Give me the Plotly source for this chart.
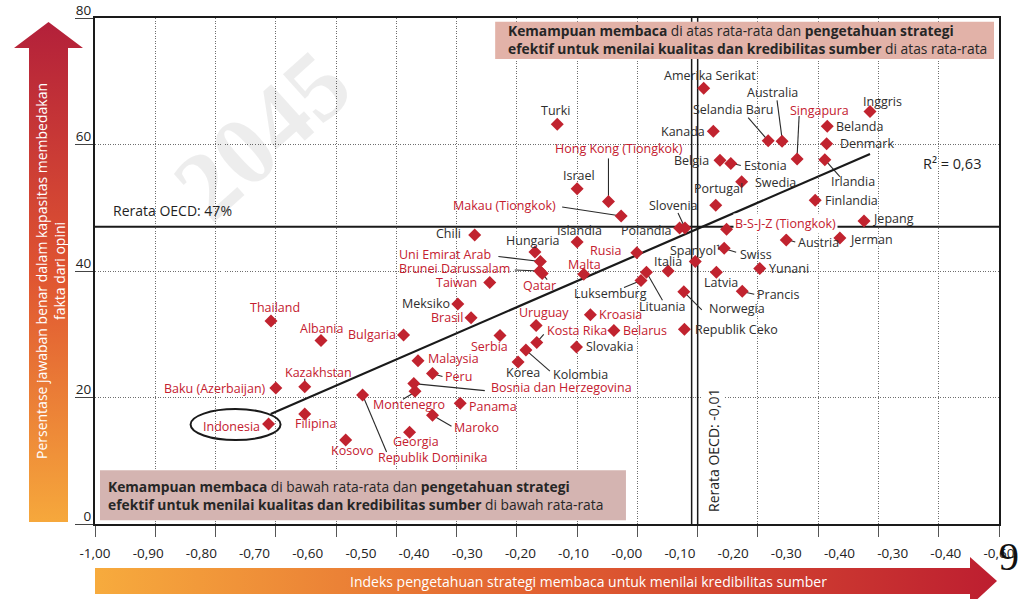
import numpy as np
import plotly.graph_objects as go

W, H = 1025, 599
FONT = "Open Sans"

# ---------------- data ----------------
countries = [
    "Thailand", "Albania", "Bulgaria", "Kazakhstan", "Baku (Azerbaijan)", "Indonesia",
    "Filipina", "Kosovo", "Republik Dominika", "Georgia", "Montenegro",
    "Bosnia dan Herzegovina", "Malaysia", "Peru", "Panama", "Maroko", "Meksiko",
    "Brasil", "Taiwan", "Serbia", "Korea", "Kolombia", "Uruguay", "Kosta Rika",
    "Slovakia", "Kroasia", "Belarus", "Republik Ceko", "Norwegia", "Prancis",
    "Lituania", "Luksemburg", "Qatar", "Brunei Darussalam", "Uni Emirat Arab",
    "Hungaria", "Islandia", "Malta", "Chili", "Rusia", "Polandia", "Slovenia",
    "Spanyol¹", "Swiss", "Italia", "Latvia", "Yunani", "Austria", "Jerman",
    "B-S-J-Z (Tiongkok)", "Jepang", "Finlandia", "Portugal", "Swedia", "Belgia",
    "Estonia", "Irlandia", "Denmark", "Belanda", "Inggris", "Singapura",
    "Australia", "Selandia Baru", "Kanada", "Amerika Serikat", "Turki", "Israel",
    "Hong Kong (Tiongkok)", "Makau (Tiongkok)",
]
x_index = [
    -0.708, -0.625, -0.488, -0.652, -0.700, -0.712,
    -0.652, -0.584, -0.556, -0.478, -0.469,
    -0.471, -0.464, -0.440, -0.394, -0.440, -0.398,
    -0.376, -0.345, -0.328, -0.298, -0.285, -0.268, -0.267,
    -0.201, -0.178, -0.139, -0.022, -0.023, 0.074,
    -0.085, -0.094, -0.258, -0.262, -0.261,
    -0.270, -0.200, -0.189, -0.370, -0.101, -0.030, -0.021,
    -0.004, 0.044, -0.049, 0.031, 0.103, 0.147, 0.236,
    0.048, 0.276, 0.195, 0.030, 0.073, 0.037,
    0.055, 0.211, 0.214, 0.215, 0.286, 0.165,
    0.140, 0.117, 0.026, 0.010, -0.233, -0.200,
    -0.148, -0.127,
]
y_pct = [
    32.1, 29.0, 29.9, 21.7, 21.5, 15.8,
    17.4, 13.3, 20.4, 14.5, 21.0,
    22.2, 25.8, 23.8, 19.1, 17.2, 34.8,
    32.6, 38.2, 29.8, 25.6, 27.5, 31.4, 28.7,
    28.0, 33.1, 30.6, 30.8, 36.7, 36.8,
    39.8, 38.5, 39.6, 40.0, 41.5,
    43.0, 44.6, 39.5, 45.7, 42.9, 46.8, 46.8,
    41.5, 43.6, 40.0, 39.8, 40.4, 44.9, 45.2,
    46.6, 47.9, 51.2, 50.4, 54.1, 57.5,
    57.0, 57.6, 60.1, 62.9, 65.2, 57.7,
    60.5, 60.6, 62.1, 68.9, 63.2, 53.0,
    51.0, 48.7,
]
non_oecd = {
    "Thailand", "Albania", "Bulgaria", "Kazakhstan", "Baku (Azerbaijan)", "Indonesia",
    "Filipina", "Kosovo", "Republik Dominika", "Georgia", "Montenegro",
    "Bosnia dan Herzegovina", "Malaysia", "Peru", "Panama", "Maroko", "Brasil",
    "Taiwan", "Serbia", "Uruguay", "Kosta Rika", "Kroasia", "Belarus", "Qatar",
    "Brunei Darussalam", "Uni Emirat Arab", "Malta", "Rusia",
    "B-S-J-Z (Tiongkok)", "Singapura", "Hong Kong (Tiongkok)", "Makau (Tiongkok)",
}

x_ticktext = ["-1,00", "-0,90", "-0,80", "-0,70", "-0,60", "-0,50", "-0,40", "-0,30",
              "-0,20", "-0,10", "-0,00", "-0,10", "-0,20", "-0,30", "-0,40", "-0,30",
              "-0,40", "-0,60"]
y_tickvals = [0, 20, 40, 60, 80]

oecd_mean_x = -0.01
oecd_mean_y = 47
trend_x = [-0.7085, 0.286]
trend_y = [17.4, 58.5]

# ---------------- label style (pixel offsets, y down) ----------------
LABELS = {
    "Thailand": (4, -13, "c", None),
    "Albania": (0, -12, "c", None),
    "Bulgaria": (-6, 0, "r", None),
    "Kazakhstan": (14, -14, "c", (0, -3, 0, -8)),
    "Baku (Azerbaijan)": (-8, 0, "r", None),
    "Indonesia": (-7, 2, "r", None),
    "Filipina": (11, 10, "c", None),
    "Kosovo": (6, 11, "c", None),
    "Republik Dominika": (13, 63, "l", (0, 0, 24, 57)),
    "Georgia": (6, 9, "c", None),
    "Montenegro": (-6, 13, "c", (-12, 8, -2, 2)),
    "Bosnia dan Herzegovina": (75, 4, "l", (0, 0, 71, 7)),
    "Malaysia": (8, -2, "l", None),
    "Peru": (11, 3, "l", (3, 1, 10, 3)),
    "Panama": (7, 3, "l", None),
    "Maroko": (20, 12, "l", (0, 0, 19, 11)),
    "Meksiko": (-6, 0, "r", None),
    "Brasil": (-6, 0, "r", None),
    "Taiwan": (-11, 0, "r", None),
    "Serbia": (-10, 11, "c", None),
    "Korea": (5, 10, "c", None),
    "Kolombia": (25, 24, "l", (0, 0, 24, 21)),
    "Uruguay": (8, -13, "c", None),
    "Kosta Rika": (8, -12, "l", (0, 0, 7, -8)),
    "Slovakia": (7, 0, "l", None),
    "Kroasia": (7, 0, "l", None),
    "Belarus": (7, 0, "l", None),
    "Republik Ceko": (9, 0, "l", None),
    "Norwegia": (23, 17, "l", (0, 0, 18, 18)),
    "Prancis": (13, 3, "l", (3, 1, 12, 3)),
    "Lituania": (16, 34, "c", (0, 0, 16, 28)),
    "Luksemburg": (-31, 13, "c", (0, 0, -17, 7)),
    "Qatar": (-3, 12, "c", (0, 0, 5, 6)),
    "Brunei Darussalam": (-28, -3, "r", (0, 0, -25, -1)),
    "Uni Emirat Arab": (-47, -7, "r", (0, 0, -42, -5)),
    "Hungaria": (-2, -12, "c", None),
    "Islandia": (2, -11, "c", None),
    "Malta": (1, -10, "c", None),
    "Chili": (-12, -1, "r", None),
    "Rusia": (-14, -2, "r", None),
    "Polandia": (-6, 3, "r", None),
    "Slovenia": (-12, -22, "c", (-7, -15, 0, 0)),
    "Spanyol¹": (0, -11, "c", None),
    "Swiss": (14, 6, "l", (2, 1, 12, 4)),
    "Italia": (0, -10, "c", None),
    "Latvia": (5, 10, "c", None),
    "Yunani": (7, 0, "l", None),
    "Austria": (10, 2, "l", (2, 0, 9, 2)),
    "Jerman": (8, 1, "l", None),
    "B-S-J-Z (Tiongkok)": (6, -6, "l", None),
    "Jepang": (7, -3, "l", None),
    "Finlandia": (8, 0, "l", None),
    "Portugal": (3, -17, "c", None),
    "Swedia": (11, 1, "l", None),
    "Belgia": (-9, 0, "r", None),
    "Estonia": (11, 2, "l", (2, 0, 10, 2)),
    "Irlandia": (4, 22, "l", (0, 0, 15, 17)),
    "Denmark": (11, 0, "l", None),
    "Belanda": (7, 0, "l", None),
    "Inggris": (12, -10, "c", None),
    "Singapura": (22, -49, "c", (2, -43, 0, -3)),
    "Australia": (-10, -49, "c", (-5, -41, 0, -3)),
    "Selandia Baru": (-35, -31, "c", (-20, -23, 0, 0)),
    "Kanada": (-6, 0, "r", None),
    "Amerika Serikat": (6, -13, "c", None),
    "Turki": (-2, -14, "c", None),
    "Israel": (2, -13, "c", None),
    "Hong Kong (Tiongkok)": (11, -53, "c", (0, -43, 0, -4)),
    "Makau (Tiongkok)": (-63, -10, "r", (-59, -9, 0, 0)),
}

RED = "#c4202f"
DARK = "#2e2e2e"
MARK = "#c1232f"
LABEL_SIZE = 12.5
GRID_DASH = "1px,1.5px"

# plot area in pixels
PL, PR, PT, PB = 95, 999, 18, 524

fig = go.Figure()

# trend line
fig.add_trace(go.Scatter(x=trend_x, y=trend_y, mode="lines",
                         line=dict(color="#1a1a1a", width=2.2),
                         hoverinfo="skip", showlegend=False))
# points
fig.add_trace(go.Scatter(x=x_index, y=y_pct, mode="markers", text=countries,
                         marker=dict(symbol="diamond", size=10, color=MARK),
                         hovertemplate="%{text}: %{x}, %{y}<extra></extra>",
                         showlegend=False))


def up(yd):
    return H - yd


# overlay pixel-space axes for gradient arrows
v_arrow_x = [29, 29, 14, 48.5, 83, 68, 68, 29]
v_arrow_y = [up(522), up(48), up(48), up(22), up(48), up(48), up(522), up(522)]
fig.add_trace(go.Scatter(
    x=v_arrow_x, y=v_arrow_y, xaxis="x2", yaxis="y2", mode="lines",
    line=dict(width=0), fill="toself", hoverinfo="skip", showlegend=False,
    fillgradient=dict(type="vertical", start=up(522), stop=up(22),
                      colorscale=[[0, "#f6a83c"], [0.5, "#df5431"], [1, "#b3203a"]])))
h_arrow_x = [95, 970, 970, 997, 970, 970, 95, 95]
h_arrow_y = [up(568), up(568), up(557), up(581), up(606), up(594), up(594), up(568)]
fig.add_trace(go.Scatter(
    x=h_arrow_x, y=h_arrow_y, xaxis="x2", yaxis="y2", mode="lines",
    line=dict(width=0), fill="toself", hoverinfo="skip", showlegend=False,
    fillgradient=dict(type="horizontal", start=95, stop=997,
                      colorscale=[[0, "#f7ab3d"], [0.5, "#e15f30"], [1, "#bd1e30"]])))

shapes = []
# OECD mean lines
shapes.append(dict(type="line", xref="x", yref="y", x0=oecd_mean_x, x1=oecd_mean_x,
                   y0=0, y1=80, line=dict(color="#1a1a1a", width=1.5), layer="between"))
shapes.append(dict(type="line", xref="x", yref="y", x0=0.0, x1=0.0,
                   y0=0, y1=80, line=dict(color="#1a1a1a", width=1.5), layer="between"))
shapes.append(dict(type="line", xref="x", yref="y", x0=-1.0, x1=0.5,
                   y0=oecd_mean_y, y1=oecd_mean_y, line=dict(color="#1a1a1a", width=2),
                   layer="between"))
# quadrant boxes
shapes.append(dict(type="rect", xref="x", yref="y", x0=-0.336, x1=0.4917, y0=73.5, y1=79.4,
                   fillcolor="#e2b2a8", line=dict(width=0), layer="between"))
shapes.append(dict(type="rect", xref="x", yref="y", x0=-0.9917, x1=-0.119, y0=0.6, y1=8.5,
                   fillcolor="#d4b4b1", line=dict(width=0), layer="between"))


def px(xp):
    return xp / W


def py(yp):
    return 1 - yp / H


# faint background watermark
annotations = [
    dict(xref="paper", yref="paper", x=px(262), y=py(135), xanchor="center", yanchor="middle",
         showarrow=False, text="<b>2045</b>", textangle=-42,
         font=dict(family="Liberation Serif", size=98, color="rgba(0,0,0,0.07)")),
]

for name, xv, yv in zip(countries, x_index, y_pct):
    dx, dy, anc, line = LABELS[name]
    color = RED if name in non_oecd else DARK
    xa = {"c": "center", "l": "left", "r": "right"}[anc]
    ann = dict(x=xv, y=yv, xref="x", yref="y", text=name, showarrow=False,
               xanchor=xa, yanchor="middle", xshift=dx, yshift=-dy,
               font=dict(family=FONT, size=LABEL_SIZE, color=color))
    if name == "B-S-J-Z (Tiongkok)":
        ann["bgcolor"] = "white"
    annotations.append(ann)
    if line is not None:
        x0, y0, x1, y1 = line
        shapes.append(dict(type="line", xref="x", yref="y", xsizemode="pixel",
                           ysizemode="pixel", xanchor=xv, yanchor=yv,
                           x0=x0, x1=x1, y0=-y0, y1=-y1,
                           line=dict(color="#2a2a2a", width=1.1), layer="between"))

# Indonesia ellipse
ix = x_index[countries.index("Indonesia")]
iy = y_pct[countries.index("Indonesia")]
shapes.append(dict(type="circle", xref="x", yref="y", xsizemode="pixel", ysizemode="pixel",
                   xanchor=ix, yanchor=iy, x0=-78, x1=12, y0=-16, y1=15,
                   line=dict(color="#1a1a1a", width=2), layer="between"))

annotations += [
    dict(xref="paper", yref="paper", x=px(506), y=py(40), xanchor="left", yanchor="middle",
         align="left", showarrow=False,
         text="<b>Kemampuan membaca</b> di atas rata-rata dan <b>pengetahuan strategi</b><br>"
              "<b>efektif untuk menilai kualitas dan kredibilitas sumber</b> di atas rata-rata",
         font=dict(family=FONT, size=13.8, color="#262626")),
    dict(xref="paper", yref="paper", x=px(106), y=py(495), xanchor="left", yanchor="middle",
         align="left", showarrow=False,
         text="<b>Kemampuan membaca</b> di bawah rata-rata dan <b>pengetahuan strategi</b><br>"
              "<b>efektif untuk menilai kualitas dan kredibilitas sumber</b> di bawah rata-rata",
         font=dict(family=FONT, size=13.8, color="#262626")),
    dict(xref="paper", yref="paper", x=px(111), y=py(211), xanchor="left", yanchor="middle",
         showarrow=False, text="Rerata OECD: 47%",
         font=dict(family=FONT, size=14, color="#1f1f1f")),
    dict(xref="paper", yref="paper", x=px(713), y=py(450), xanchor="center", yanchor="middle",
         showarrow=False, text="Rerata OECD: -0,01", textangle=-90, bgcolor="white",
         font=dict(family=FONT, size=14, color="#1f1f1f")),
    dict(xref="paper", yref="paper", x=px(952), y=py(163), xanchor="center", yanchor="middle",
         showarrow=False, text="R² = 0,63",
         font=dict(family=FONT, size=14.5, color="#1f1f1f")),
    dict(xref="paper", yref="paper", x=px(50), y=py(271), xanchor="center", yanchor="middle",
         showarrow=False, textangle=-90,
         text="Persentase jawaban benar dalam kapasitas membedakan<br>fakta dari opini",
         font=dict(family=FONT, size=14, color="white")),
    dict(xref="paper", yref="paper", x=px(588), y=py(581), xanchor="center", yanchor="middle",
         showarrow=False,
         text="Indeks pengetahuan strategi membaca untuk menilai kredibilitas sumber",
         font=dict(family=FONT, size=14, color="white")),
    dict(xref="paper", yref="paper", x=px(1009), y=py(556), xanchor="center", yanchor="middle",
         showarrow=False, text="9",
         font=dict(family="Liberation Serif", size=40, color="#111")),
]

x_tickvals = list(np.linspace(-1.0, 0.5, len(x_ticktext)))

fig.update_layout(
    width=W, height=H,
    margin=dict(l=0, r=0, t=0, b=0, autoexpand=False),
    paper_bgcolor="white", plot_bgcolor="rgba(0,0,0,0)",
    showlegend=False,
    shapes=shapes, annotations=annotations,
    font=dict(family=FONT, color="#222"),
    xaxis=dict(domain=[PL / W, PR / W], range=[-1.0, 0.5], showgrid=False, zeroline=False,
               automargin=False,
               tickmode="array", tickvals=x_tickvals, ticktext=x_ticktext, ticks="",
               ticklabelstandoff=16, tickfont=dict(family=FONT, size=13.5, color="#222"),
               showline=True, linecolor="#1a1a1a", linewidth=2, mirror=True,
               minor=dict(dtick=0.1, tick0=-1.0, showgrid=True, griddash=GRID_DASH,
                          gridcolor="#6e6e6e", gridwidth=1, ticks="outside", ticklen=11,
                          tickcolor="#555", tickwidth=1)),
    yaxis=dict(domain=[1 - PB / H, 1 - PT / H], range=[0, 80], tickmode="array",
               automargin=False,
               tickvals=y_tickvals, showgrid=True, griddash=GRID_DASH, gridcolor="#6e6e6e",
               gridwidth=1, zeroline=False, ticks="outside", ticklen=18, tickcolor="#444",
               tickwidth=1, ticklabelstandoff=-19, ticklabelshift=-8,
               tickfont=dict(family=FONT, size=13.5, color="#222"),
               showline=True, linecolor="#1a1a1a", linewidth=2, mirror=True),
    xaxis2=dict(domain=[0, 1], range=[0, W], visible=False, anchor="y2", fixedrange=True,
                automargin=False),
    yaxis2=dict(domain=[0, 1], range=[0, H], visible=False, anchor="x2", fixedrange=True,
                automargin=False),
)

fig.write_html("out.html", config={"displayModeBar": False},
               post_script="document.body.style.margin='0';"
                           "document.body.style.overflow='hidden';")
